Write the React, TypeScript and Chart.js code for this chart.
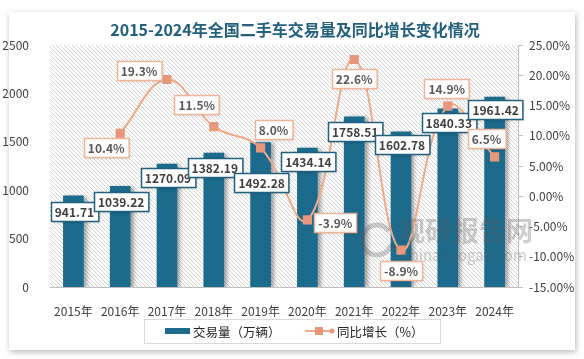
import React, { useEffect, useRef } from "react";
import { Chart, registerables } from "chart.js";

Chart.register(...registerables);

const titleText = "2015-2024年全国二手车交易量及同比增长变化情况";
const categories = ["2015年", "2016年", "2017年", "2018年", "2019年", "2020年", "2021年", "2022年", "2023年", "2024年"];
const volume = [941.71, 1039.22, 1270.09, 1382.19, 1492.28, 1434.14, 1758.51, 1602.78, 1840.33, 1961.42];
const growth: (number | null)[] = [null, 10.4, 19.3, 11.5, 8.0, -3.9, 22.6, -8.9, 14.9, 6.5];
const volumeName = "交易量（万辆）";
const growthName = "同比增长（%）";

// label placement offsets (px), style only
const volumeLabelDy = [16, 15, 13, 14, 40, 13, 15, 13, 14, 12];
const growthLabelDxy: [number, number][] = [
  [0, 0], [-14, 14], [-28, -9], [-17, -22], [13, -18], [28, 3], [0, 19], [0, 20], [-1, -18], [-8, -18],
];

const FONT = '"Noto Sans CJK SC", "Noto Sans", sans-serif';
const BAR_COLOR = "#1c6a8c";
const LINE_COLOR = "#f0aa88";
const POINT_COLOR = "#e9977a";

function drawBox(ctx: CanvasRenderingContext2D, text: string, cx: number, cy: number, border: string, color: string) {
  ctx.save();
  ctx.font = `bold 12px ${FONT}`;
  const w = ctx.measureText(text).width + 8;
  const h = 19;
  const x = Math.round(cx - w / 2) + 0.5;
  const y = Math.round(cy - h / 2) + 0.5;
  ctx.shadowColor = "rgba(0,0,0,0.18)";
  ctx.shadowBlur = 3;
  ctx.shadowOffsetX = 1;
  ctx.shadowOffsetY = 1;
  ctx.fillStyle = "#ffffff";
  ctx.fillRect(x, y, w, h);
  ctx.shadowColor = "transparent";
  ctx.lineWidth = 1.5;
  ctx.strokeStyle = border;
  ctx.strokeRect(x, y, w, h);
  ctx.fillStyle = color;
  ctx.textAlign = "center";
  ctx.textBaseline = "middle";
  ctx.fillText(text, cx, cy + 1);
  ctx.restore();
}

const customPlugin = {
  id: "custom",
  beforeDraw(chart: any) {
    const { ctx, chartArea: a } = chart;
    ctx.save();
    ctx.beginPath();
    ctx.rect(a.left, a.top, a.right - a.left, a.bottom - a.top);
    ctx.clip();
    ctx.fillStyle = "#ffffff";
    ctx.fillRect(a.left, a.top, a.right - a.left, a.bottom - a.top);
    ctx.strokeStyle = "#d4d4d4";
    ctx.lineWidth = 1;
    const h = a.bottom - a.top;
    for (let x = a.left - h; x < a.right + 4; x += 4) {
      ctx.beginPath();
      ctx.moveTo(x, a.top);
      ctx.lineTo(x + h, a.bottom);
      ctx.stroke();
    }
    ctx.restore();
  },
  beforeDatasetDraw(chart: any, args: any) {
    if (args.index === 0) {
      const ctx = chart.ctx;
      ctx.save();
      ctx.shadowColor = "rgba(0,0,0,0.35)";
      ctx.shadowBlur = 4;
      ctx.shadowOffsetX = 3;
      ctx.shadowOffsetY = 1;
    }
  },
  afterDatasetDraw(chart: any, args: any) {
    if (args.index === 0) chart.ctx.restore();
  },
  afterDraw(chart: any) {
    const ctx = chart.ctx as CanvasRenderingContext2D;
    // watermark
    ctx.save();
    ctx.fillStyle = "rgba(90,90,90,0.30)";
    ctx.font = `bold 27px ${FONT}`;
    ctx.textBaseline = "middle";
    ctx.textAlign = "left";
    ctx.fillText("观研报告网", 398, 231);
    ctx.font = `15px ${FONT}`;
    ctx.fillText("chinabaogao.com", 402, 255);
    ctx.strokeStyle = "rgba(90,90,90,0.30)";
    ctx.lineWidth = 5;
    ctx.beginPath();
    ctx.arc(377, 240, 15, 0.3, Math.PI * 1.8);
    ctx.stroke();
    ctx.restore();

    // bar labels
    const barMeta = chart.getDatasetMeta(0);
    barMeta.data.forEach((el: any, i: number) => {
      drawBox(ctx, volume[i].toFixed(2), el.x + 1, el.y + volumeLabelDy[i], "#21607e", "#404040");
    });
    // line labels
    const lineMeta = chart.getDatasetMeta(1);
    lineMeta.data.forEach((el: any, i: number) => {
      const v = growth[i];
      if (v === null || el.skip) return;
      const [dx, dy] = growthLabelDxy[i];
      drawBox(ctx, v.toFixed(1) + "%", el.x + dx, el.y + dy, "#f0b496", "#595959");
    });

    // title
    ctx.save();
    ctx.font = `bold 16px ${FONT}`;
    ctx.fillStyle = "#22607e";
    ctx.textAlign = "center";
    ctx.textBaseline = "middle";
    ctx.fillText(titleText, 295, 30);
    ctx.restore();

    // legend
    ctx.save();
    ctx.strokeStyle = "#d9d9d9";
    ctx.lineWidth = 1;
    ctx.strokeRect(144.5, 319.5, 296, 24);
    ctx.fillStyle = BAR_COLOR;
    ctx.fillRect(165, 328, 25, 6);
    ctx.font = `12.5px ${FONT}`;
    ctx.fillStyle = "#262626";
    ctx.textBaseline = "middle";
    ctx.textAlign = "left";
    ctx.fillText(volumeName, 193, 332);
    ctx.strokeStyle = LINE_COLOR;
    ctx.lineWidth = 2;
    ctx.beginPath();
    ctx.moveTo(305, 331);
    ctx.lineTo(333, 331);
    ctx.stroke();
    ctx.fillStyle = POINT_COLOR;
    ctx.fillRect(315, 327, 8, 8);
    ctx.beginPath();
    ctx.arc(332, 331, 2.5, 0, Math.PI * 2);
    ctx.fill();
    ctx.fillStyle = "#262626";
    ctx.fillText(growthName, 337, 332);
    ctx.restore();
  },
};

export default function App() {
  const ref = useRef<HTMLCanvasElement | null>(null);
  useEffect(() => {
    if (!ref.current) return;
    const chart = new Chart(ref.current, {
      type: "bar",
      data: {
        labels: categories,
        datasets: [
          {
            type: "bar",
            label: volumeName,
            data: volume,
            backgroundColor: BAR_COLOR,
            yAxisID: "y",
            barThickness: 20,
            order: 1,
          } as any,
          {
            type: "line",
            label: growthName,
            data: growth,
            borderColor: LINE_COLOR,
            borderWidth: 2,
            tension: 0.4,
            pointStyle: "rect",
            pointRadius: 6.5,
            pointBackgroundColor: POINT_COLOR,
            pointBorderColor: POINT_COLOR,
            pointBorderWidth: 0,
            yAxisID: "y1",
            order: 0,
          } as any,
        ],
      },
      options: {
        animation: false,
        responsive: false,
        maintainAspectRatio: false,
        layout: { padding: { top: 45, left: 0, right: 0, bottom: 0 } },
        plugins: {
          legend: { display: false },
          title: { display: false },
          tooltip: { enabled: false },
        },
        scales: {
          x: {
            grid: { display: false },
            border: { display: true, color: "#bfbfbf", width: 1 },
            ticks: { color: "#404040", font: { family: FONT, size: 12 }, padding: 9, maxRotation: 0 },
            afterFit: (s: any) => { s.height = 72; },
          },
          y: {
            position: "left",
            min: 0,
            max: 2500,
            grid: { display: false },
            border: { display: false },
            ticks: {
              stepSize: 500,
              color: "#404040",
              font: { family: FONT, size: 12 },
              padding: 13,
              callback: (v: any) => String(v),
            },
            afterFit: (s: any) => { s.width = 50; },
          },
          y1: {
            position: "right",
            min: -15,
            max: 25,
            grid: { display: true, drawOnChartArea: false, drawTicks: true, tickLength: 5, color: "#bfbfbf" },
            border: { display: true, color: "#bfbfbf", width: 1 },
            ticks: {
              stepSize: 5,
              color: "#404040",
              font: { family: FONT, size: 12 },
              padding: 6,
              callback: (v: any) => Number(v).toFixed(2) + "%",
            },
            afterFit: (s: any) => { s.width = 66; },
          },
        },
      } as any,
      plugins: [customPlugin],
    });
    return () => chart.destroy();
  }, []);

  return (
    <div style={{ position: "fixed", left: 0, top: 0, width: 584, height: 359, background: "#ffffff", overflow: "hidden" }}>
      <div
        style={{
          position: "absolute",
          left: 9,
          top: 12,
          width: 566,
          height: 338,
          background: "#ffffff",
          boxShadow: "1px 2px 6px rgba(0,0,0,0.28)",
        }}
      />
      <canvas ref={ref} width={584} height={359} style={{ position: "absolute", left: 0, top: 0, width: 584, height: 359 }} />
    </div>
  );
}
